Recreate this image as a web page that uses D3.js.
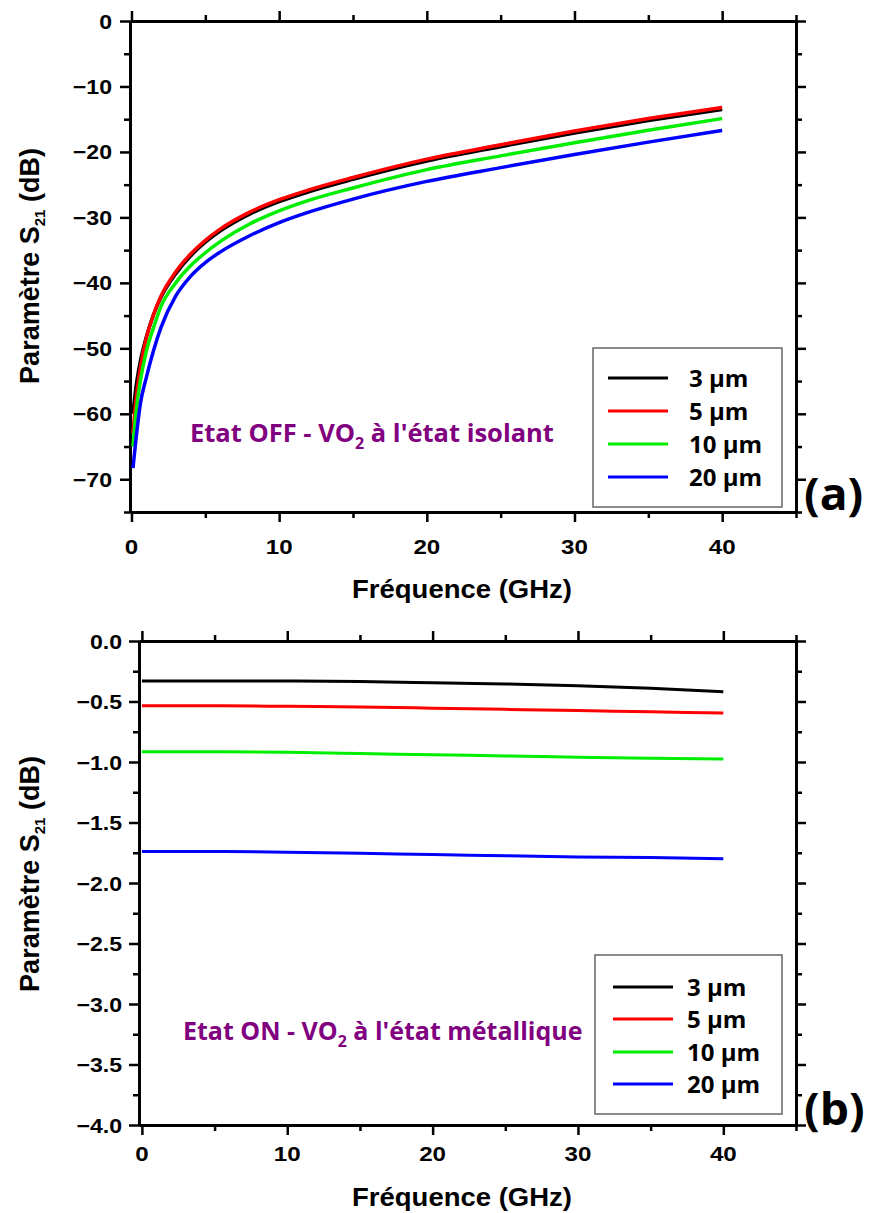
<!DOCTYPE html>
<html><head><meta charset="utf-8">
<script src="https://cdn.jsdelivr.net/npm/d3@7"></script>
<style>body{margin:0;background:#fff}svg{display:block}</style>
</head><body>
<svg id="c" width="870" height="1213"></svg>
<script>
// ---------- DATA ----------
const seriesNames = ["3 µm", "5 µm", "10 µm", "20 µm"];
const seriesColors = ["#000000", "#ff0000", "#00ee00", "#0000ff"];

// (a) Etat OFF
const freqOff = [0.1, 0.3, 0.6, 1, 1.5, 2, 3, 4, 5, 6, 8, 10, 12, 15, 20, 25, 30, 35, 40];
const off3  = [-60, -56, -52, -48.3, -44.8, -42.2, -38.6, -35.9, -33.8, -32.1, -29.5, -27.6, -26.1, -24.2, -21.4, -19.2, -17.1, -15.2, -13.5];
const off5  = [-63, -58, -53, -48.5, -44.8, -42.0, -38.3, -35.6, -33.5, -31.8, -29.2, -27.3, -25.8, -23.9, -21.1, -18.9, -16.8, -14.9, -13.2];
const off10 = [-65, -60, -55, -50.5, -46.8, -43.6, -40.0, -37.4, -35.4, -33.7, -31.0, -29.0, -27.4, -25.5, -22.7, -20.6, -18.6, -16.7, -14.9];
const off20 = [-68.3, -64, -58.5, -54.5, -50.3, -46.8, -42.0, -39.0, -36.9, -35.3, -32.8, -30.8, -29.2, -27.2, -24.5, -22.4, -20.4, -18.5, -16.7];

// (b) Etat ON
const freqOn = [0, 5, 10, 15, 20, 25, 30, 35, 40];
const on3  = [-0.33, -0.33, -0.33, -0.335, -0.345, -0.355, -0.37, -0.39, -0.42];
const on5  = [-0.535, -0.535, -0.54, -0.545, -0.555, -0.565, -0.575, -0.585, -0.595];
const on10 = [-0.915, -0.915, -0.92, -0.93, -0.94, -0.95, -0.96, -0.97, -0.975];
const on20 = [-1.74, -1.74, -1.745, -1.755, -1.765, -1.775, -1.785, -1.79, -1.80];

const xMajorTicks = [0, 10, 20, 30, 40];
const xMinorTicks = [5, 15, 25, 35, 45];
const yMajorOff = [0, -10, -20, -30, -40, -50, -60, -70];
const yMinorOff = [-5, -15, -25, -35, -45, -55, -65, -75];
const yMajorOn = [0, -0.5, -1, -1.5, -2, -2.5, -3, -3.5, -4];
const yMinorOn = [-0.25, -0.75, -1.25, -1.75, -2.25, -2.75, -3.25, -3.75];

const xTitle = "Fréquence (GHz)";
const annOff = ["Etat OFF - VO", "2", " à l'état isolant"];
const annOn = ["Etat ON - VO", "2", " à l'état métallique"];

// ---------- DRAW ----------
const svg = d3.select("#c");
const AX = "'Liberation Sans', Arial, sans-serif";
const CAL = "'Open Sans', sans-serif";
const PURPLE = "#800080";

function txt(g, x, y, s, o) {
  const t = g.append("text")
    .attr("transform", `translate(${x},${y})` + (o.rot ? ` rotate(${o.rot})` : "") + ` scale(${o.sx || 1},1)`)
    .attr("font-family", o.family || AX).attr("font-weight", "bold")
    .attr("font-size", o.size).attr("text-anchor", o.anchor || "start")
    .attr("fill", o.fill || "#000");
  if (typeof s === "string") t.text(s);
  return t;
}

function panel(cfg) {
  const g = svg.append("g");
  const x = d3.scaleLinear().domain(cfg.xDom).range(cfg.xRange);
  const y = d3.scaleLinear().domain(cfg.yDom).range(cfg.yRange);
  const [L, R] = cfg.xRange, [B, T] = cfg.yRange;

  function ax(axis, tr, size) {
    const a = g.append("g").attr("transform", tr).call(axis.tickSize(size).tickSizeOuter(0).tickFormat(""));
    a.select(".domain").attr("stroke", "#000").attr("stroke-width", 3);
    a.selectAll(".tick line").attr("stroke", "#000").attr("stroke-width", 2.5);
    return a;
  }
  const MJ = 10, MN = 6;
  ax(d3.axisBottom(x).tickValues(xMajorTicks), `translate(0,${B})`, MJ);
  ax(d3.axisBottom(x).tickValues(xMinorTicks), `translate(0,${B})`, MN);
  ax(d3.axisTop(x).tickValues(xMajorTicks), `translate(0,${T})`, MJ);
  ax(d3.axisTop(x).tickValues(xMinorTicks), `translate(0,${T})`, MN);
  ax(d3.axisLeft(y).tickValues(cfg.yMajor), `translate(${L},0)`, MJ);
  ax(d3.axisLeft(y).tickValues(cfg.yMinor), `translate(${L},0)`, MN);
  ax(d3.axisRight(y).tickValues(cfg.yMajor), `translate(${R},0)`, MJ);
  ax(d3.axisRight(y).tickValues(cfg.yMinor), `translate(${R},0)`, MN);

  // tick labels
  xMajorTicks.forEach(v => txt(g, x(v), cfg.xLabY, String(v), {size: 21, anchor: "middle", sx: 1.15}));
  cfg.yMajor.forEach(v => txt(g, cfg.yLabX, y(v) + 7.5, cfg.yFmt(v), {size: 21, anchor: "end", sx: 1.1}));

  // titles
  txt(g, 462, cfg.xTitleY, xTitle, {size: 25, anchor: "middle", sx: 1.1});
  const yt = txt(g, 39, cfg.yTitleC, null, {size: 27, anchor: "middle", rot: -90});
  yt.append("tspan").text("Paramètre S");
  yt.append("tspan").text("21").attr("font-size", 15).attr("dy", 6);
  yt.append("tspan").text(" (dB)").attr("dy", -6);

  // curves
  const line = d3.line().x(d => x(d[0])).y(d => y(d[1])).curve(d3.curveMonotoneX);
  cfg.series.forEach((s, i) => {
    g.append("path").datum(cfg.freq.map((f, k) => [f, s[k]]))
      .attr("d", line).attr("fill", "none").attr("stroke", seriesColors[i])
      .attr("stroke-width", cfg.lw).attr("stroke-linejoin", "round");
  });

  // annotation
  const an = txt(g, cfg.annX, cfg.annY, null, {size: cfg.annSize, family: CAL, fill: PURPLE});
  an.append("tspan").text(cfg.ann[0]);
  an.append("tspan").text(cfg.ann[1]).attr("font-size", 16).attr("dy", 7);
  an.append("tspan").text(cfg.ann[2]).attr("dy", -7);

  // legend
  const lg = cfg.legend;
  g.append("rect").attr("x", lg.x).attr("y", lg.y).attr("width", lg.w).attr("height", lg.h)
    .attr("fill", "#fff").attr("stroke", "#666").attr("stroke-width", 1.5);
  seriesNames.forEach((n, i) => {
    const yy = lg.rows[i];
    g.append("line").attr("x1", lg.lx1).attr("x2", lg.lx2).attr("y1", yy).attr("y2", yy)
      .attr("stroke", seriesColors[i]).attr("stroke-width", 3);
    txt(g, lg.tx, yy + 8.5, n, {size: 24, family: CAL});
  });

  // panel letter
  txt(g, 804, cfg.letterY, cfg.letter, {size: 44, family: CAL, sx: 1.05});
}

const fmtInt = d3.format("d"), fmt1 = d3.format(".1f");

panel({
  xDom: [-0.1, 45], xRange: [130, 796], yDom: [-75, 0], yRange: [512, 21],
  yMajor: yMajorOff, yMinor: yMinorOff, yFmt: v => fmtInt(v),
  xLabY: 554, yLabX: 112, xTitleY: 598, yTitleC: 266,
  freq: freqOff, series: [off3, off5, off10, off20], lw: 3.5,
  ann: annOff, annX: 190, annY: 442, annSize: 25.5,
  legend: {x: 593, y: 348, w: 189, h: 159, rows: [378, 411, 444, 477], lx1: 608, lx2: 668, tx: 689},
  letter: "(a)", letterY: 510
});

panel({
  xDom: [-0.2, 45], xRange: [139, 796], yDom: [-4, 0], yRange: [1125, 641],
  yMajor: yMajorOn, yMinor: yMinorOn, yFmt: v => fmt1(v),
  xLabY: 1161, yLabX: 122, xTitleY: 1206, yTitleC: 874,
  freq: freqOn, series: [on3, on5, on10, on20], lw: 3,
  ann: annOn, annX: 183, annY: 1040, annSize: 25,
  legend: {x: 595, y: 955, w: 187, h: 159, rows: [987, 1019, 1052, 1084], lx1: 613, lx2: 673, tx: 687},
  letter: "(b)", letterY: 1125
});
</script>
</body></html>
